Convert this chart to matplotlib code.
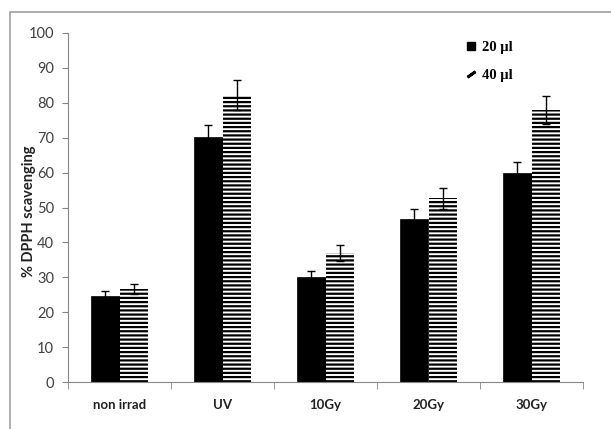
import matplotlib.pyplot as plt
import matplotlib.patches as mpatches
from matplotlib.lines import Line2D
import numpy as np

plt.rcParams['hatch.linewidth'] = 1.6

categories = ['non irrad', 'UV', '10Gy', '20Gy', '30Gy']
vals_20 = [24.7, 70.2, 30.0, 46.7, 59.9]
err_20 = [1.4, 3.4, 1.8, 3.0, 3.1]
vals_40 = [26.6, 82.2, 37.0, 52.7, 78.0]
err_40 = [1.4, 4.3, 2.3, 3.0, 4.0]
yticks = list(range(0, 101, 10))

fig = plt.figure(figsize=(6.11, 4.29), dpi=100)
# outer chart frame (Excel style)
fig.patches.append(mpatches.Rectangle((10 / 611, -0.1), 1.2, 0.1 + 1 - 12 / 429,
                                      transform=fig.transFigure, fill=False,
                                      edgecolor='#a0a0a0', linewidth=1.2))
ax = fig.add_axes([68 / 611, 1 - 382 / 429, (583 - 68) / 611, (382 - 33) / 429])

x = np.arange(len(categories))
w = 0.275
ax.bar(x - w / 2, vals_20, width=w, color='black', edgecolor='black', linewidth=0.5,
       yerr=err_20, capsize=3, error_kw=dict(ecolor='black', elinewidth=1, capthick=1))
ax.bar(x + w / 2, vals_40, width=w, color='white', edgecolor='black', linewidth=0,
       hatch='----', yerr=err_40, capsize=3,
       error_kw=dict(ecolor='black', elinewidth=1, capthick=1))

ax.set_xlim(-0.5, 4.5)
ax.set_ylim(0, 100)
ax.set_yticks(yticks)
ax.set_xticks(x)
ax.set_xticklabels(categories, fontweight='bold', fontsize=9.5, family='Lato', color='#222222')
ax.set_xticks(np.arange(-0.5, 5, 1), minor=True)
ax.tick_params(axis='x', which='major', length=0, pad=12)
ax.tick_params(axis='x', which='minor', length=5, color='#868686', direction='out')
ax.tick_params(axis='y', length=4, color='#868686', direction='out', labelsize=10.5,
               labelcolor='#404040', pad=6)
for lab in ax.get_yticklabels():
    lab.set_family('Lato')

for s in ['top', 'right']:
    ax.spines[s].set_visible(False)
for s in ['left', 'bottom']:
    ax.spines[s].set_color('#868686')

ax.set_ylabel('% DPPH scavenging', fontweight='bold', fontsize=10.5, family='Lato',
              color='#222222')
ax.yaxis.set_label_coords(-0.063, 0.49)

handles = [Line2D([], [], linestyle='none', marker='s', markersize=6, color='black'),
           Line2D([], [], linestyle='none', marker=(2, 2, -55), markersize=7,
                  markeredgewidth=2, color='black')]
ax.legend(handles, ['20 µl', '40 µl'], loc='upper left', bbox_to_anchor=(0.745, 1.015),
          frameon=False, handlelength=0.8, handletextpad=0.4, labelspacing=1.0,
          prop=dict(family='Liberation Serif', weight='bold', size=10.5))

fig.savefig('out.png', dpi=100)
